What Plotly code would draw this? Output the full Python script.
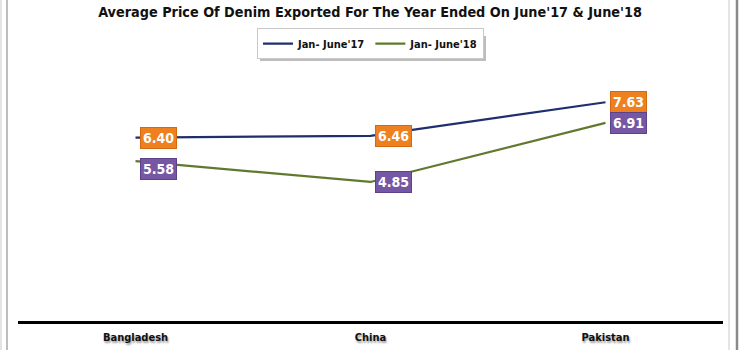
import plotly.graph_objects as go

countries = ["Bangladesh", "China", "Pakistan"]
series_names = ["Jan- June'17", "Jan- June'18"]
price_17 = [6.40, 6.46, 7.63]
price_18 = [5.58, 4.85, 6.91]

line_colors = ["#1F2F6E", "#5F7A2F"]
label_colors = ["#EE8020", "#7657A3"]
label_borders = ["#D46A10", "#5E4289"]

FONT = "DejaVu Sans Condensed, Arial Narrow, sans-serif"

fig = go.Figure()
for name, vals, col in zip(series_names, [price_17, price_18], line_colors):
    fig.add_trace(go.Scatter(
        x=countries, y=vals, name=name, mode="lines",
        line=dict(color=col, width=2.2),
    ))

# value tags sitting just right of each point
annotations = []
for vals, bg, bd, shifts in [
    (price_17, label_colors[0], label_borders[0], [0, 0, 0]),
    (price_18, label_colors[1], label_borders[1], [-8, 0, 0]),
]:
    for c, v, ys in zip(countries, vals, shifts):
        annotations.append(dict(
            x=c, y=v, xref="x", yref="y", text=f"<b>{v:.2f}</b>",
            showarrow=False, xanchor="left", yanchor="middle",
            xshift=4, yshift=ys,
            font=dict(family=FONT, size=14, color="white"),
            bgcolor=bg, bordercolor=bd, borderwidth=1, borderpad=2,
        ))

PLOT_TOP, PLOT_BOTTOM = 63, 321
PLOT_H = PLOT_BOTTOM - PLOT_TOP

def py_to_paper_y(py):
    return (PLOT_BOTTOM - py) / PLOT_H

def px_to_paper_x(px):
    return (px - 18) / 705.0

fig.update_layout(
    width=740, height=350,
    margin=dict(l=18, r=17, t=PLOT_TOP, b=350 - PLOT_BOTTOM),
    paper_bgcolor="white", plot_bgcolor="white",
    title=dict(
        text="<b>Average Price Of Denim Exported For The Year Ended On June'17 & June'18</b>",
        x=0.5, xanchor="center", y=0.967, yanchor="middle",
        font=dict(family=FONT, size=14.3, color="#111111"),
    ),
    showlegend=True,
    legend=dict(
        orientation="h", x=0.5, xanchor="center", yref="paper", y=1.015, yanchor="bottom",
        bgcolor="white", bordercolor="#C8C8C8", borderwidth=1,
        font=dict(family=FONT, size=11, color="#111111", weight="bold"),
        itemwidth=30,
    ),
    xaxis=dict(
        type="category", range=[-0.5, 2.5], automargin=False,
        showgrid=False, zeroline=False,
        showline=True, linecolor="black", linewidth=3,
        ticks="", ticklabelstandoff=4,
        tickfont=dict(family=FONT, size=11, color="#111111",
                      weight="bold", shadow="1px 2px 2px #9a9a9a"),
    ),
    yaxis=dict(range=[0, 9], visible=False, showgrid=False, zeroline=False,
               automargin=False),
    annotations=annotations,
)

# soft drop shadow under the legend box
fig.add_shape(type="rect", xref="paper", yref="paper",
              x0=px_to_paper_x(260), x1=px_to_paper_x(486),
              y0=py_to_paper_y(61), y1=py_to_paper_y(36),
              line=dict(width=0), fillcolor="#BDBDBD", layer="above")

# outer frame edges
for px, col, w in [(1, "#C9C9C9", 1), (7, "#A9A9A9", 1.5), (729, "#C9C9C9", 1), (737, "#8A8A8A", 2.5)]:
    fig.add_shape(type="line", xref="paper", yref="paper",
                  x0=px_to_paper_x(px), x1=px_to_paper_x(px), y0=-0.2, y1=1.3,
                  line=dict(color=col, width=w), layer="above")

fig.write_html("out.html")
